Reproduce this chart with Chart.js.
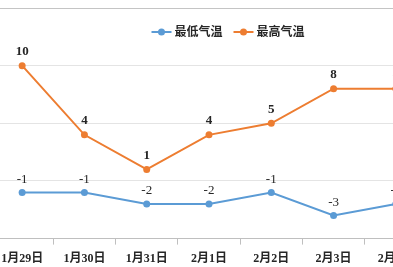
<!DOCTYPE html>
<html><head><meta charset="utf-8">
<script src="https://cdn.jsdelivr.net/npm/chart.js@4"></script>
<style>
html,body{margin:0;padding:0;background:#fff;}
#wrap{position:relative;width:393px;height:267px;overflow:hidden;background:#fff;}
#c{position:absolute;left:-40px;top:0;}
</style></head><body>
<div id="wrap"><canvas id="c" width="477" height="273"></canvas></div>
<script>
const categories = ['1月29日','1月30日','1月31日','2月1日','2月2日','2月3日','2月4日'];
const lowTemps = [-1, -1, -2, -2, -1, -3, -2];
const highTemps = [10, 4, 1, 4, 5, 8, 8];
const seriesNames = ['最低气温', '最高气温'];
const yMin = -5, yMax = 15, yStep = 5;

const FONT_FAMILY = '"Liberation Serif", "Noto Sans CJK SC", serif';

const valueLabels = {
  id: 'valueLabels',
  afterDatasetsDraw(chart) {
    const ctx = chart.ctx;
    chart.data.datasets.forEach((ds, i) => {
      const meta = chart.getDatasetMeta(i);
      ctx.save();
      ctx.font = ds.valueFont;
      ctx.fillStyle = '#262626';
      ctx.textAlign = 'center';
      ctx.textBaseline = 'middle';
      meta.data.forEach((pt, j) => {
        ctx.fillText(String(ds.data[j]), pt.x, pt.y - ds.valueOffset);
      });
      ctx.restore();
    });
  }
};

const topLegend = {
  id: 'topLegend',
  afterDraw(chart, args, opts) {
    const ctx = chart.ctx;
    ctx.save();
    ctx.font = opts.font;
    const items = chart.data.datasets.map(ds => ({ text: ds.label, color: ds.borderColor }));
    const markerW = 20, gap = 3, spacing = 11;
    let total = 0;
    items.forEach((it, k) => {
      it.w = ctx.measureText(it.text).width;
      total += markerW + gap + it.w + (k ? spacing : 0);
    });
    let x = chart.chartArea.left + opts.centerOffset - total / 2;
    const y = chart.chartArea.top + opts.yOffset;
    items.forEach(it => {
      ctx.strokeStyle = it.color;
      ctx.lineWidth = 2;
      ctx.beginPath();
      ctx.moveTo(x, y);
      ctx.lineTo(x + markerW, y);
      ctx.stroke();
      ctx.fillStyle = it.color;
      ctx.beginPath();
      ctx.arc(x + markerW / 2, y, 3.5, 0, Math.PI * 2);
      ctx.fill();
      ctx.fillStyle = '#262626';
      ctx.textAlign = 'left';
      ctx.textBaseline = 'middle';
      ctx.fillText(it.text, x + markerW + gap, y + 1);
      x += markerW + gap + it.w + spacing;
    });
    ctx.restore();
  }
};

new Chart(document.getElementById('c'), {
  type: 'line',
  data: {
    labels: categories,
    datasets: [
      {
        label: seriesNames[0],
        data: lowTemps,
        borderColor: '#5B9BD5',
        backgroundColor: '#5B9BD5',
        borderWidth: 2,
        pointRadius: 3.5,
        pointBackgroundColor: '#5B9BD5',
        pointBorderWidth: 0,
        tension: 0,
        valueFont: '13px ' + FONT_FAMILY,
        valueOffset: 13
      },
      {
        label: seriesNames[1],
        data: highTemps,
        borderColor: '#ED7D31',
        backgroundColor: '#ED7D31',
        borderWidth: 2,
        pointRadius: 3.5,
        pointBackgroundColor: '#ED7D31',
        pointBorderWidth: 0,
        tension: 0,
        valueFont: 'bold 13px ' + FONT_FAMILY,
        valueOffset: 14
      }
    ]
  },
  options: {
    responsive: false,
    animation: false,
    devicePixelRatio: 1,
    layout: { padding: { left: 31, right: 10, top: 8, bottom: 0 } },
    plugins: {
      legend: { display: false },
      tooltip: { enabled: false },
      topLegend: { font: 'bold 12px ' + FONT_FAMILY, centerOffset: 237, yOffset: 24 }
    },
    scales: {
      x: {
        offset: true,
        grid: {
          offset: true,
          drawOnChartArea: false,
          drawTicks: true,
          tickLength: 6,
          color: '#bfbfbf'
        },
        border: { display: true, color: '#bfbfbf', width: 1 },
        ticks: {
          color: '#262626',
          padding: 7,
          maxRotation: 0,
          autoSkip: false,
          font: { family: FONT_FAMILY, size: 12, weight: 'bold' }
        }
      },
      y: {
        min: yMin,
        max: yMax,
        ticks: { display: false, stepSize: yStep },
        grid: {
          drawTicks: false,
          color: (c) => (c.tick && c.tick.value === yMax) ? '#c4c4c4' : '#e4e4e4'
        },
        border: { display: false }
      }
    }
  },
  plugins: [valueLabels, topLegend]
});
</script>
</body></html>
